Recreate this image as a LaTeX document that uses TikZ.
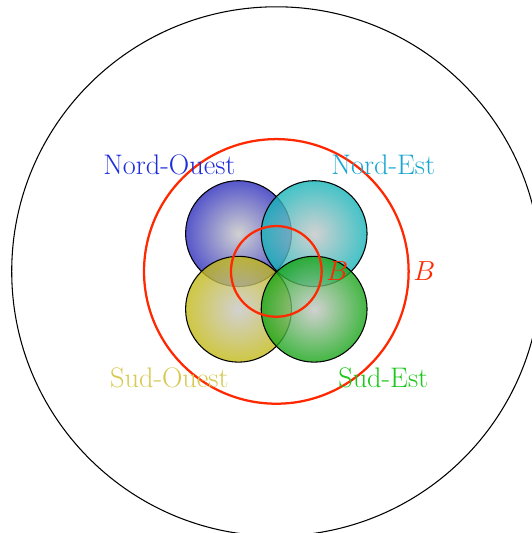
\documentclass[tikz,border=0pt]{standalone}
\usetikzlibrary{positioning}
\definecolor{bred}{RGB}{255,40,0}
\definecolor{nwcol}{RGB}{45,45,190}
\definecolor{necol}{RGB}{20,180,185}
\definecolor{swcol}{RGB}{195,185,20}
\definecolor{secol}{RGB}{20,165,20}
\definecolor{nwtext}{RGB}{30,45,220}
\definecolor{netext}{RGB}{25,165,210}
\definecolor{swtext}{RGB}{215,200,80}
\definecolor{setext}{RGB}{25,200,25}

\begin{document}
\begin{tikzpicture}[font=\fontsize{21.3}{26}\selectfont,
  zone/.style={draw=black, line width=0.8pt, fill opacity=0.8, draw opacity=1,
    inner color=gray!45, outer color=#1},
  frontier/.style={draw=bred, line width=1.7pt}]
\clip (-7.31,-6.92) rectangle (6.76,7.18);
\draw[line width=0.8pt] (0,0) circle (7);
% les quatre quadrants
\path[zone=nwcol] (-1,1) circle (1.4);
\path[zone=necol] (1,1) circle (1.4);
\path[zone=swcol] (-1,-1) circle (1.4);
\path[zone=secol] (1,-1) circle (1.4);
% frontieres
\draw[frontier] (0,0) circle (3.5);
\draw[frontier] (0,0) circle (1.2);
\node[text=bred, right] (bout) at (3.5,0) {$B$};
\node[text=bred, right] (bin) at (1.2,0) {$B$};
\node[text=nwtext] (no) at (135:4) {Nord-Ouest};
\node[text=netext] (ne) at (45:4) {Nord-Est};
\node[text=swtext] (so) at (225:4) {Sud-Ouest};
\node[text=setext] (se) at (315:4) {Sud-Est};
\end{tikzpicture}
\end{document}
